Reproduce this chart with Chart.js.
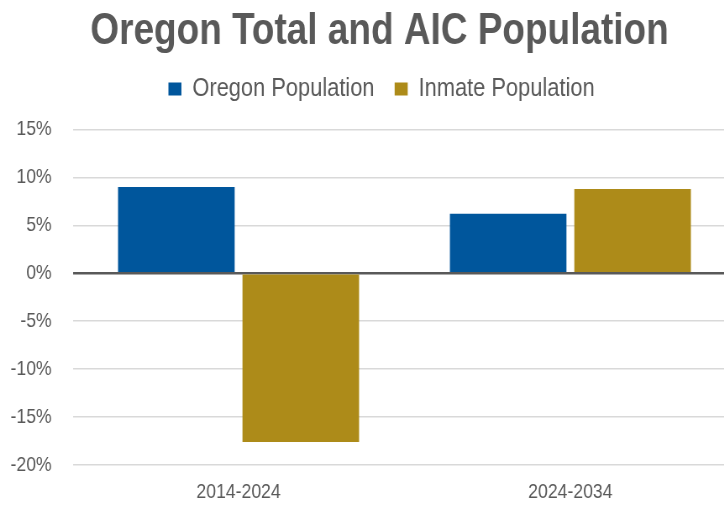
<!DOCTYPE html>
<html>
<head>
<meta charset="utf-8">
<script src="https://cdn.jsdelivr.net/npm/chart.js@4"></script>
<style>
  html, body { margin: 0; padding: 0; background: #fff; overflow: hidden; }
  /* no narrow font installed: draw wider and squeeze horizontally */
  #wrap { width: 902px; height: 506px; transform: scaleX(0.84); transform-origin: 0 0; }
</style>
</head>
<body>
<div id="wrap"><canvas id="chart"></canvas></div>
<script>
const periods = ["2014-2024", "2024-2034"];
const oregonPop = [9.0, 6.2];
const inmatePop = [-17.6, 8.8];
const yTicks = [-20, -15, -10, -5, 0, 5, 10, 15];

const GRAY = "#595959";
const FONT = "'Liberation Sans', Arial, sans-serif";

// extra room between legend and plot, and re-centre title/legend
const tweaks = {
  id: "tweaks",
  beforeInit(chart) {
    const fit = chart.legend.fit;
    chart.legend.fit = function () {
      fit.call(this);
      this.height += 17.5;
    };
  },
  afterLayout(chart) {
    chart.titleBlock.right += 14.6;
    chart.legend.right += 19.4;
  }
};

new Chart(document.getElementById("chart"), {
  type: "bar",
  data: {
    labels: periods,
    datasets: [
      { label: "Oregon Population", data: oregonPop, backgroundColor: "#00569c" },
      { label: "Inmate Population", data: inmatePop, backgroundColor: "#ad8b19" }
    ]
  },
  plugins: [tweaks],
  options: {
    responsive: true,
    maintainAspectRatio: false,
    animation: false,
    barPercentage: 0.937,
    categoryPercentage: 0.75,
    layout: { padding: { left: 12.5, right: 25.5, top: 4, bottom: 0.8 } },
    plugins: {
      title: {
        display: true,
        text: "Oregon Total and AIC Population",
        color: GRAY,
        font: { family: FONT, size: 44, weight: "bold" },
        padding: { top: 1.6, bottom: -6.4 }
      },
      legend: {
        labels: {
          color: GRAY,
          font: { family: FONT, size: 26 },
          boxWidth: 15.5,
          boxHeight: 13,
          padding: 24
        }
      },
      tooltip: { enabled: false }
    },
    scales: {
      x: {
        afterFit: axis => { axis.height = 40.2; },
        grid: { display: false, drawTicks: false },
        border: { display: false },
        ticks: { color: GRAY, font: { family: FONT, size: 21 }, padding: 15 }
      },
      y: {
        min: -20,
        max: 15,
        afterBuildTicks: axis => { axis.ticks = yTicks.map(v => ({ value: v })); },
        afterFit: axis => { axis.width = 74; },
        border: { display: false },
        grid: {
          drawTicks: false,
          color: c => c.tick && c.tick.value === 0 ? GRAY : "#d9d9d9",
          lineWidth: c => c.tick && c.tick.value === 0 ? 2.5 : 1.5
        },
        ticks: {
          color: GRAY,
          font: { family: FONT, size: 21 },
          padding: 25,
          callback: v => v + "%"
        }
      }
    }
  }
});
</script>
</body>
</html>
